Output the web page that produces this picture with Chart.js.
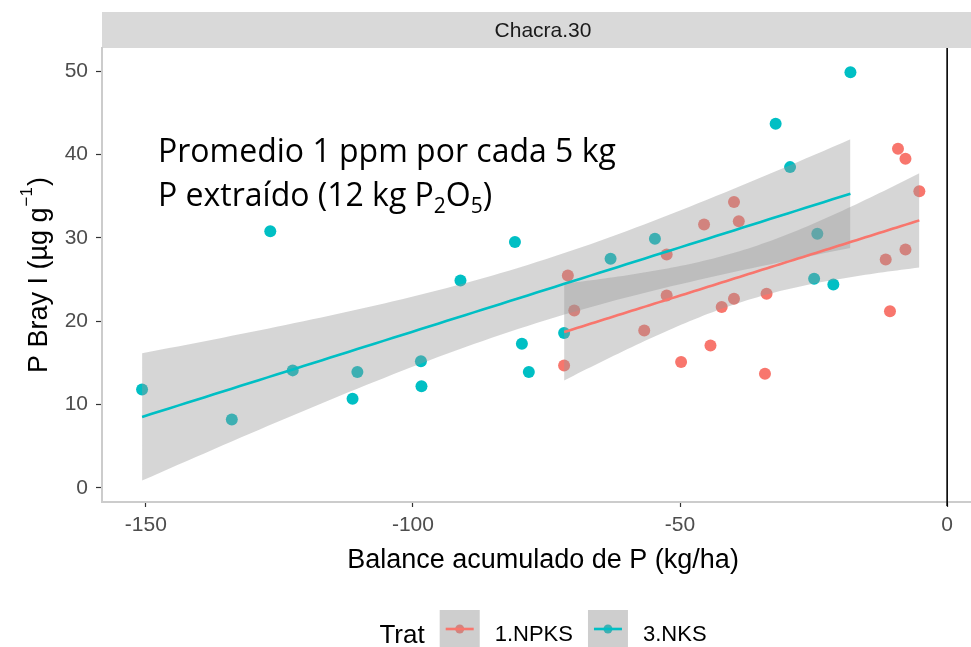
<!DOCTYPE html>
<html>
<head>
<meta charset="utf-8">
<script src="https://cdn.jsdelivr.net/npm/chart.js@4.4.0/dist/chart.umd.min.js"></script>
<style>
  html, body { margin: 0; padding: 0; background: #fff; overflow: hidden; }
  #wrap { width: 971px; height: 647px; overflow: hidden; }
  canvas { display: block; }
</style>
</head>
<body>
<div id="wrap"><canvas id="chart" width="990" height="647"></canvas></div>
<script>
// P balance (kg/ha) vs P Bray I, field "Chacra.30"
const npksX = [-71.7, -71.0, -69.8, -56.7, -52.5, -52.5, -49.8, -45.5, -44.3, -42.2, -39.9,
               -39.0, -39.9, -34.1, -33.8, -11.5, -10.7, -9.2, -7.8, -7.8, -5.2];
const npksY = [14.7, 25.5, 21.3, 18.9, 28.0, 23.1, 15.1, 31.6, 17.1, 21.7, 34.3,
               32.0, 22.7, 13.7, 23.3, 27.4, 21.2, 40.7, 39.5, 28.6, 35.6];
const nksX = [-150.7, -133.9, -126.7, -122.5, -111.3, -110.4, -98.5, -98.4, -91.1, -80.9, -79.6,
              -78.3, -71.7, -63.0, -54.7, -32.1, -29.4, -24.3, -24.9, -21.3, -18.1];
const nksY = [11.8, 8.2, 30.8, 14.1, 10.7, 13.9, 15.2, 12.2, 24.9, 29.5, 17.3,
              13.9, 18.6, 27.5, 29.9, 43.7, 38.5, 30.5, 25.1, 24.4, 49.9];
const seriesNames = ['1.NPKS', '3.NKS'];
const xTicks = [-150, -100, -50, 0];
const yTicks = [0, 10, 20, 30, 40, 50];
const facetLabel = 'Chacra.30';
const legendTitle = 'Trat';

const RED = '#F8766D';
const CYAN = '#00BFC4';
const BAND = 'rgba(153,153,153,0.4)';
const T_CRIT = 2.093; // t(0.975, df = 19), both groups have n = 21
const FONT = '"Liberation Sans", Arial, sans-serif';

// ordinary least squares with 95% confidence band, like geom_smooth(method = "lm")
function lmSmooth(xs, ys, steps) {
  const n = xs.length;
  const mx = xs.reduce((a, b) => a + b, 0) / n;
  const my = ys.reduce((a, b) => a + b, 0) / n;
  let sxx = 0, sxy = 0;
  for (let i = 0; i < n; i++) {
    sxx += (xs[i] - mx) ** 2;
    sxy += (xs[i] - mx) * (ys[i] - my);
  }
  const b = sxy / sxx;
  const a = my - b * mx;
  let sse = 0;
  for (let i = 0; i < n; i++) sse += (ys[i] - a - b * xs[i]) ** 2;
  const s = Math.sqrt(sse / (n - 2));
  const lo = Math.min(...xs), hi = Math.max(...xs);
  const fit = [], upper = [], lower = [];
  for (let i = 0; i < steps; i++) {
    const x = lo + (hi - lo) * i / (steps - 1);
    const yh = a + b * x;
    const se = s * Math.sqrt(1 / n + (x - mx) ** 2 / sxx);
    fit.push({ x, y: yh });
    upper.push({ x, y: yh + T_CRIT * se });
    lower.push({ x, y: yh - T_CRIT * se });
  }
  return { fit, upper, lower };
}

const toPts = (xs, ys) => xs.map((x, i) => ({ x, y: ys[i] }));
const npksSm = lmSmooth(npksX, npksY, 80);
const nksSm = lmSmooth(nksX, nksY, 80);

function pointSet(label, data, color) {
  return { label, data, order: 2, pointRadius: 6, pointHoverRadius: 6,
           pointBackgroundColor: color, pointBorderWidth: 0, borderColor: color, showLine: false };
}
function bandEdge(data, fill) {
  return { data, order: 1, showLine: true, pointRadius: 0, borderWidth: 0,
           borderColor: 'rgba(0,0,0,0)', backgroundColor: BAND, fill };
}
function fitLine(data, color) {
  return { data, order: 0, showLine: true, pointRadius: 0, borderWidth: 2.6,
           borderColor: color, fill: false };
}

const facetPlugin = {
  id: 'facet',
  beforeDraw(chart) {
    const { ctx, chartArea: a } = chart;
    ctx.save();
    ctx.fillStyle = '#d9d9d9';
    ctx.fillRect(a.left, 12, a.right - a.left, a.top - 12);
    ctx.fillStyle = '#1a1a1a';
    ctx.font = '21px ' + FONT;
    ctx.textAlign = 'center';
    ctx.textBaseline = 'middle';
    ctx.fillText(facetLabel, (a.left + a.right) / 2, (12 + a.top) / 2 + 1);
    ctx.restore();
  },
  afterDatasetsDraw(chart) {
    // reference line at zero balance
    const { ctx, chartArea: a, scales } = chart;
    const x0 = scales.x.getPixelForValue(0);
    ctx.save();
    ctx.strokeStyle = '#000';
    ctx.lineWidth = 1.6;
    ctx.beginPath();
    ctx.moveTo(x0, a.top);
    ctx.lineTo(x0, a.bottom + 4);
    ctx.stroke();
    ctx.restore();
  },
  afterDraw(chart) {
    const { ctx, chartArea: a } = chart;
    const cx = (a.left + a.right) / 2;
    const cy = (a.top + a.bottom) / 2;
    ctx.save();

    // x axis title
    ctx.fillStyle = '#000';
    ctx.font = '27px ' + FONT;
    ctx.textAlign = 'center';
    ctx.textBaseline = 'alphabetic';
    ctx.fillText('Balance acumulado de P (kg/ha)', cx, 568);

    // y axis title with superscript
    ctx.save();
    ctx.translate(47, cy);
    ctx.rotate(-Math.PI / 2);
    ctx.textAlign = 'left';
    const partA = 'P Bray I (µg g', sup = '\u22121', partB = ')';
    ctx.font = '27px ' + FONT;
    const wA = ctx.measureText(partA).width, wB = ctx.measureText(partB).width;
    ctx.font = '17px ' + FONT;
    const wS = ctx.measureText(sup).width;
    let x = -(wA + wS + wB + 2) / 2;
    ctx.font = '27px ' + FONT;
    ctx.fillText(partA, x, 0);
    x += wA + 1;
    ctx.font = '17px ' + FONT;
    ctx.fillText(sup, x, -15);
    x += wS + 1;
    ctx.font = '27px ' + FONT;
    ctx.fillText(partB, x, 0);
    ctx.restore();

    // annotation
    const big = '32px "Open Sans", Lato, sans-serif';
    const small = '21px "Open Sans", Lato, sans-serif';
    ctx.textAlign = 'left';
    ctx.font = big;
    ctx.fillText('Promedio 1 ppm por cada 5 kg', 158, 162);
    const runs = [['P extraído (12 kg P', big, 0], ['2', small, 7], ['O', big, 0], ['5', small, 7], [')', big, 0]];
    let tx = 158;
    runs.forEach(([t, f, dy]) => {
      ctx.font = f;
      ctx.fillText(t, tx, 206 + dy);
      tx += ctx.measureText(t).width;
    });

    // legend
    ctx.font = '26px ' + FONT;
    const wT = ctx.measureText(legendTitle).width;
    ctx.font = '22px ' + FONT;
    const wL = seriesNames.map(s => ctx.measureText(s).width);
    const box = 40, gap = 15;
    const total = wT + gap + box + gap + wL[0] + gap + box + gap + wL[1];
    let lx = cx - total / 2;
    const top = 610, mid = top + 19;
    ctx.font = '26px ' + FONT;
    ctx.fillStyle = '#000';
    ctx.fillText(legendTitle, lx, 643);
    lx += wT + gap;
    [RED, CYAN].forEach((col, i) => {
      ctx.fillStyle = '#f2f2f2';
      ctx.fillRect(lx, top, box, box);
      ctx.fillStyle = col;
      ctx.beginPath();
      ctx.arc(lx + box / 2, mid, 4.5, 0, Math.PI * 2);
      ctx.fill();
      ctx.fillStyle = BAND;
      ctx.fillRect(lx, top, box, box);
      ctx.strokeStyle = col;
      ctx.lineWidth = 2.6;
      ctx.beginPath();
      ctx.moveTo(lx + 6, mid);
      ctx.lineTo(lx + box - 6, mid);
      ctx.stroke();
      lx += box + gap;
      ctx.font = '22px ' + FONT;
      ctx.fillStyle = '#000';
      ctx.fillText(seriesNames[i], lx, 641);
      lx += wL[i] + gap;
    });
    ctx.restore();
  }
};

new Chart(document.getElementById('chart'), {
  type: 'scatter',
  data: {
    datasets: [
      pointSet(seriesNames[0], toPts(npksX, npksY), RED),
      pointSet(seriesNames[1], toPts(nksX, nksY), CYAN),
      bandEdge(npksSm.lower, false),
      bandEdge(npksSm.upper, '-1'),
      bandEdge(nksSm.lower, false),
      bandEdge(nksSm.upper, '-1'),
      fitLine(npksSm.fit, RED),
      fitLine(nksSm.fit, CYAN)
    ]
  },
  options: {
    responsive: false,
    animation: false,
    devicePixelRatio: 1,
    layout: { padding: { top: 48, right: 2.4, left: 0, bottom: 0 } },
    plugins: { legend: { display: false }, tooltip: { enabled: false } },
    scales: {
      x: {
        type: 'linear',
        min: -158.2,
        max: 6.9,
        afterFit(scale) { scale.height = 145; },
        afterBuildTicks(scale) { scale.ticks = xTicks.map(v => ({ value: v })); },
        grid: { drawOnChartArea: false, drawTicks: true, tickLength: 5, tickColor: '#333', tickWidth: 1.2 },
        border: { display: true, color: '#cccccc', width: 2 },
        ticks: { color: '#4d4d4d', font: { family: FONT, size: 21 }, padding: 6, maxRotation: 0 }
      },
      y: {
        type: 'linear',
        min: -1.7,
        max: 52.8,
        afterFit(scale) { scale.width = 102; },
        afterBuildTicks(scale) { scale.ticks = yTicks.map(v => ({ value: v })); },
        grid: { drawOnChartArea: false, drawTicks: true, tickLength: 6, tickColor: '#333', tickWidth: 1.2 },
        border: { display: true, color: '#cccccc', width: 2 },
        ticks: { color: '#4d4d4d', font: { family: FONT, size: 21 }, padding: 8 }
      }
    }
  },
  plugins: [facetPlugin]
});
</script>
</body>
</html>
